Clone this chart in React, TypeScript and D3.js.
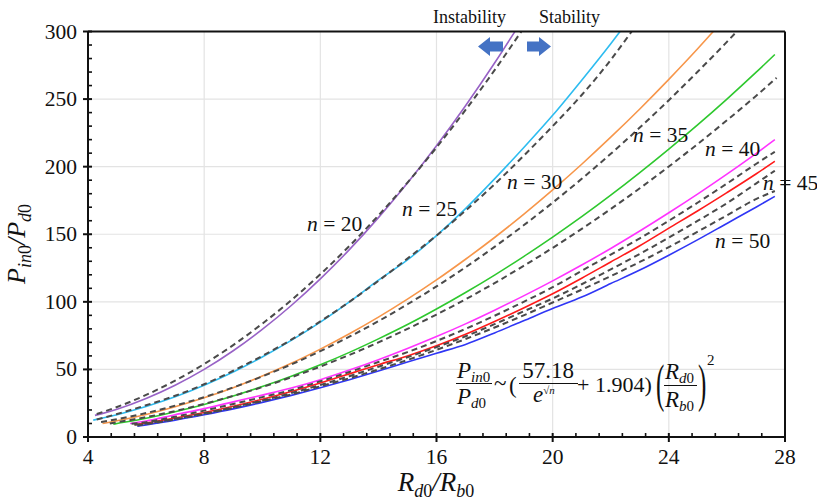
import React from "react";
import * as d3 from "d3";

// ---------- data ----------
const X_TICKS = [4, 8, 12, 16, 20, 24, 28];
const Y_TICKS = [0, 50, 100, 150, 200, 250, 300];
const N_VALUES = [20, 25, 30, 35, 40, 45, 50];

const SIM20_X = [4.24, 5, 6, 7, 8, 9, 10, 11, 12, 13, 14, 15, 16, 17, 18, 18.7];
const SIM20_Y = [16, 20.6, 28.5, 38.3, 50, 63.8, 79.6, 97.3, 117, 138.6, 162.3, 187.9, 215.5, 245.1, 276.7, 300];
const FIT20_X = [4.3, 5, 6, 7, 8, 9, 10, 11, 12, 13, 14, 15, 16, 17, 18, 18.92];
const FIT20_Y = [17, 22.2, 31.1, 41.7, 54, 68, 83.8, 101.2, 120.4, 141.3, 163.9, 188.2, 214.2, 242, 271.4, 300];

const SIM25_X = [4.18, 5, 6, 7, 8, 9, 10, 11, 12, 13, 14, 15, 16, 17, 18, 19, 20, 21, 22, 22.32];
const SIM25_Y = [12.5, 16.5, 22.5, 29.7, 38.3, 48.1, 59.2, 71.5, 85, 100, 116, 131, 149, 169, 191, 214, 238, 264, 291, 300];
const FIT25_X = [4.3, 5, 6, 7, 8, 9, 10, 11, 12, 13, 14, 15, 16, 17, 18, 19, 20, 21, 22, 22.72];
const FIT25_Y = [13, 17, 23.5, 30.5, 39, 49, 60, 72, 85.5, 100, 115.5, 132, 149, 167.5, 187, 208, 230, 253, 279, 300];

const SIM30_X = [4.5, 5, 6, 7, 8, 9, 10, 11, 12, 13, 14, 15, 16, 17, 18, 19, 20, 21, 22, 23, 24, 25, 25.53];
const SIM30_Y = [10, 12, 16.7, 22.4, 29, 36.5, 45.1, 54.5, 65, 76.4, 88.7, 102, 116.2, 131.5, 147.6, 164.7, 182.8, 201.8, 221.8, 242.7, 264.6, 287.4, 300];
const FIT30_X = [4.45, 5, 6, 7, 8, 9, 10, 11, 12, 13, 14, 15, 16, 17, 18, 19, 20, 21, 22, 23, 24, 25, 26, 26.34];
const FIT30_Y = [11, 13.2, 17.7, 23.2, 29.5, 36.7, 44.8, 53.7, 63.5, 74.2, 85.7, 98.2, 111.4, 125.6, 140.7, 156.6, 173.4, 191, 209.5, 228.9, 249.2, 270.4, 292.3, 300];

const SIM35_X = [4.87, 5, 6, 7, 8, 9, 10, 11, 12, 13, 14, 15, 16, 17, 18, 19, 20, 21, 22, 23, 24, 25, 26, 27, 27.65];
const SIM35_Y = [9.5, 10, 13.9, 18.7, 24.1, 30.3, 37.3, 45, 53.4, 62.6, 72.6, 83.2, 94.7, 106.9, 119.8, 133.5, 147.9, 163, 178.9, 195.6, 213, 231.1, 250, 269.7, 283];
const FIT35_X = [4.75, 5, 6, 7, 8, 9, 10, 11, 12, 13, 14, 15, 16, 17, 18, 19, 20, 21, 22, 23, 24, 25, 26, 27, 27.71];
const FIT35_Y = [10, 10.9, 14.7, 19.2, 24.5, 30.4, 36.9, 44.2, 52.1, 60.7, 70, 80, 90.6, 101.9, 113.9, 126.6, 139.9, 154, 168.7, 184, 200.1, 216.9, 234.3, 252.3, 265.7];

const SIM40_X = [5.45, 6, 7, 8, 9, 10, 11, 12, 13, 14, 15, 16, 17, 18, 19, 20, 21, 22, 23, 24, 25, 26, 27, 27.65];
const SIM40_Y = [10, 11.8, 16.5, 21, 26, 31, 36.2, 42.4, 49.5, 57.2, 65.5, 74.3, 83.7, 93.8, 104.4, 115.5, 127.2, 139.5, 152.4, 165.9, 179.9, 194.5, 209.7, 220];
const FIT40_X = [5.5, 6, 7, 8, 9, 10, 11, 12, 13, 14, 15, 16, 17, 18, 19, 20, 21, 22, 23, 24, 25, 26, 27, 27.65];
const FIT40_Y = [9.8, 11, 15, 19.5, 24.4, 29.5, 34.7, 41.2, 48.1, 55.5, 62.8, 71, 80, 89.7, 100, 110.8, 123, 135, 147, 160, 173.5, 187.5, 202, 211];

const SIM45_X = [5.6, 6, 7, 8, 9, 10, 11, 12, 13, 14, 15, 16, 17, 18, 19, 20, 21, 22, 23, 24, 25, 26, 27, 27.65];
const SIM45_Y = [9, 10.3, 14, 18.1, 22.8, 28, 33.7, 40, 46.7, 53.5, 60, 67.5, 76, 85.5, 95.5, 106, 117.5, 129.5, 141.5, 154.5, 167.4, 180.8, 194.6, 204];
const FIT45_X = [5.6, 6, 7, 8, 9, 10, 11, 12, 13, 14, 15, 16, 17, 18, 19, 20, 21, 22, 23, 24, 25, 26, 27, 27.65];
const FIT45_Y = [9, 10, 13.5, 17.5, 22, 27, 32.5, 38.5, 45, 52, 59, 66.5, 74.5, 83.5, 93, 102.5, 113, 124, 135.5, 147.5, 160, 173, 187.5, 197];

const SIM50_X = [5.7, 6, 7, 8, 9, 10, 11, 12, 13, 14, 15, 16, 17, 18, 19, 20, 21, 22, 23, 24, 25, 26, 27, 27.65];
const SIM50_Y = [8, 9, 12.5, 16.5, 20.8, 25.6, 30.8, 36.4, 42.4, 48.8, 55.5, 62, 68.5, 77, 86, 95, 103.5, 113.5, 123.5, 134.5, 146, 158, 170, 178];
const FIT50_X = [5.7, 6, 7, 8, 9, 10, 11, 12, 13, 14, 15, 16, 17, 18, 19, 20, 21, 22, 23, 24, 25, 26, 27, 27.65];
const FIT50_Y = [8.5, 9.5, 13, 17, 21.5, 26.5, 31.5, 37.5, 43.5, 50, 57, 64.5, 72.5, 81, 90, 99.5, 109, 119, 129.5, 140.5, 152, 164, 176, 182];

const SIM_X = [SIM20_X, SIM25_X, SIM30_X, SIM35_X, SIM40_X, SIM45_X, SIM50_X];
const SIM_Y = [SIM20_Y, SIM25_Y, SIM30_Y, SIM35_Y, SIM40_Y, SIM45_Y, SIM50_Y];
const FIT_X = [FIT20_X, FIT25_X, FIT30_X, FIT35_X, FIT40_X, FIT45_X, FIT50_X];
const FIT_Y = [FIT20_Y, FIT25_Y, FIT30_Y, FIT35_Y, FIT40_Y, FIT45_Y, FIT50_Y];

// ---------- styles ----------
const COLORS = ["#9862c6", "#2dbcf0", "#f7964a", "#2ec82e", "#ff33ff", "#ff1a1a", "#2f36f5"];
const LABEL_POS: [number, number][] = [
  [307, 231], [402, 216], [507, 189], [633, 142], [705, 156], [763, 190], [715, 248],
];

const W = 817, H = 502;
const M = { left: 88, right: 785, top: 31.5, bottom: 437 };
const FONT = "Liberation Serif";

export default function App() {
  const x = d3.scaleLinear().domain([4, 28]).range([M.left, M.right]);
  const y = d3.scaleLinear().domain([0, 300]).range([M.bottom, M.top]);
  const line = d3
    .line<[number, number]>()
    .x((d) => x(d[0]))
    .y((d) => y(d[1]))
    .curve(d3.curveMonotoneX);

  const minorX = d3.range(4, 28.001, 0.8).filter((v) => !X_TICKS.some((t) => Math.abs(t - v) < 1e-6));
  const minorY = d3.range(0, 300.001, 10).filter((v) => v % 50 !== 0);

  const sims = N_VALUES.map((_, i) => SIM_X[i].map((v, j) => [v, SIM_Y[i][j]] as [number, number]));
  const fits = N_VALUES.map((_, i) => FIT_X[i].map((v, j) => [v, FIT_Y[i][j]] as [number, number]));

  const txt: React.CSSProperties = { fontFamily: FONT };

  return (
    <svg width={W} height={H} style={{ position: "absolute", left: 0, top: 0, background: "#fff" }}>
      <rect x={0} y={0} width={W} height={H} fill="#fff" />
      {/* grid */}
      {X_TICKS.slice(1, -1).map((t) => (
        <line key={"gx" + t} x1={x(t)} x2={x(t)} y1={M.top} y2={M.bottom} stroke="#e3e3e3" strokeWidth={1.2} />
      ))}
      {Y_TICKS.slice(1, -1).map((t) => (
        <line key={"gy" + t} x1={M.left} x2={M.right} y1={y(t)} y2={y(t)} stroke="#e3e3e3" strokeWidth={1.2} />
      ))}

      {/* simulation curves */}
      {sims.map((d, i) => (
        <path key={"s" + i} d={line(d) || ""} fill="none" stroke={COLORS[i]} strokeWidth={1.6} />
      ))}
      {/* fitted dashed curves */}
      {fits.map((d, i) => (
        <path key={"f" + i} d={line(d) || ""} fill="none" stroke="#4a4a4a" strokeWidth={2} strokeDasharray="6,4" />
      ))}

      {/* frame */}
      <line x1={M.left} x2={M.right} y1={M.top} y2={M.top} stroke="#111" strokeWidth={2} />
      <line x1={M.right} x2={M.right} y1={M.top} y2={M.bottom} stroke="#111" strokeWidth={2} />
      <line x1={M.left} x2={M.left} y1={M.top} y2={M.bottom + 1} stroke="#111" strokeWidth={2} />
      <line x1={M.left - 1} x2={M.right + 1} y1={M.bottom} y2={M.bottom} stroke="#111" strokeWidth={2} />

      {/* ticks */}
      {X_TICKS.map((t) => (
        <g key={"xt" + t}>
          <line x1={x(t)} x2={x(t)} y1={M.bottom - 4} y2={M.bottom + 5} stroke="#111" strokeWidth={2} />
          <text x={x(t)} y={464} textAnchor="middle" fontSize={21.5} fill="#111" style={txt}>
            {t}
          </text>
        </g>
      ))}
      {minorX.map((t) => (
        <line key={"mx" + t} x1={x(t)} x2={x(t)} y1={M.bottom - 4} y2={M.bottom} stroke="#111" strokeWidth={1.6} />
      ))}
      {Y_TICKS.map((t) => (
        <g key={"yt" + t}>
          <line x1={M.left - 5} x2={M.left + 4} y1={y(t)} y2={y(t)} stroke="#111" strokeWidth={2} />
          <text x={77} y={y(t) + 7} textAnchor="end" fontSize={21.5} fill="#111" style={txt}>
            {t}
          </text>
        </g>
      ))}
      {minorY.map((t) => (
        <line key={"my" + t} x1={M.left} x2={M.left + 4} y1={y(t)} y2={y(t)} stroke="#111" strokeWidth={1.6} />
      ))}

      {/* axis titles */}
      <text x={436} y={491} textAnchor="middle" fontSize={27} fill="#111" style={txt}>
        <tspan fontStyle="italic">R</tspan>
        <tspan fontSize={18} dy={6}>
          <tspan fontStyle="italic">d</tspan>0
        </tspan>
        <tspan dy={-6} fontStyle="italic">/R</tspan>
        <tspan fontSize={18} dy={6}>
          <tspan fontStyle="italic">b</tspan>0
        </tspan>
      </text>
      <text transform="translate(25,244) rotate(-90)" textAnchor="middle" fontSize={26} fill="#111" style={txt}>
        <tspan fontStyle="italic">P</tspan>
        <tspan fontSize={18} dy={6}>
          <tspan fontStyle="italic">in</tspan>0
        </tspan>
        <tspan dy={-6} fontStyle="italic">/P</tspan>
        <tspan fontSize={18} dy={6}>
          <tspan fontStyle="italic">d</tspan>0
        </tspan>
      </text>

      {/* series labels */}
      {N_VALUES.map((n, i) => (
        <text key={"lb" + n} x={LABEL_POS[i][0]} y={LABEL_POS[i][1]} fontSize={21.5} fill="#111" style={txt}>
          <tspan fontStyle="italic">n</tspan> = {n}
        </text>
      ))}

      {/* instability / stability */}
      <text x={433} y={23} fontSize={18} fill="#111" style={txt}>Instability</text>
      <text x={539} y={23} fontSize={18} fill="#111" style={txt}>Stability</text>
      <polygon points="478,46.5 490,37 490,41.5 503,41.5 503,51.5 490,51.5 490,56" fill="#4472c4" />
      <polygon points="551,46.5 539,37 539,41.5 527,41.5 527,51.5 539,51.5 539,56" fill="#4472c4" />

      {/* formula */}
      <g fill="#111" fontSize={23}>
        <text x={457} y={378} style={txt}>
          <tspan fontStyle="italic">P</tspan>
          <tspan fontSize={15} dy={4}>
            <tspan fontStyle="italic">in</tspan>0
          </tspan>
        </text>
        <line x1={456} x2={492} y1={383.5} y2={383.5} stroke="#111" strokeWidth={1} />
        <text x={457} y={404} style={txt}>
          <tspan fontStyle="italic">P</tspan>
          <tspan fontSize={15} dy={4}>
            <tspan fontStyle="italic">d</tspan>0
          </tspan>
        </text>
        <text x={494} y={391} style={txt}>~</text>
        <text x={509} y={393} style={txt}>(</text>
        <text x={548} y={378} textAnchor="middle" style={txt}>57.18</text>
        <line x1={519} x2={578} y1={383.5} y2={383.5} stroke="#111" strokeWidth={1} />
        <text x={533} y={402} style={txt}>
          <tspan fontStyle="italic">e</tspan>
          <tspan fontSize={11} dy={-8}>√<tspan fontStyle="italic">n</tspan></tspan>
        </text>
        <text x={577} y={392} fontSize={22} style={txt}>+ 1.904)</text>
        <text transform="translate(656,401) scale(1,2.1)" fontSize={25} style={txt}>(</text>
        <text x={665} y={379} style={txt}>
          <tspan fontStyle="italic">R</tspan>
          <tspan fontSize={15} dy={4}>
            <tspan fontStyle="italic">d</tspan>0
          </tspan>
        </text>
        <line x1={664} x2={697} y1={385.5} y2={385.5} stroke="#111" strokeWidth={1} />
        <text x={665} y={407} style={txt}>
          <tspan fontStyle="italic">R</tspan>
          <tspan fontSize={15} dy={4}>
            <tspan fontStyle="italic">b</tspan>0
          </tspan>
        </text>
        <text transform="translate(698,401) scale(1,2.1)" fontSize={25} style={txt}>)</text>
        <text x={707} y={365} fontSize={15} style={txt}>2</text>
      </g>
    </svg>
  );
}
